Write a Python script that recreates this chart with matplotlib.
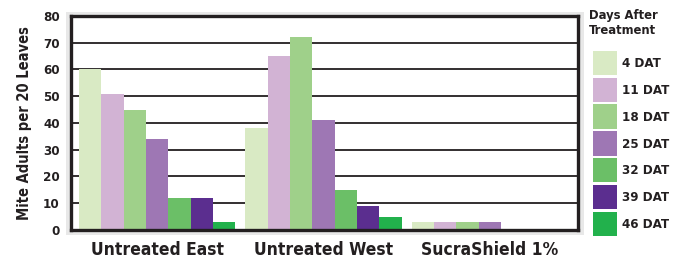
import matplotlib
matplotlib.use("Agg")
import matplotlib.pyplot as plt
from matplotlib.patches import Rectangle, Patch
import numpy as np

# mite counts
groups = ["Untreated East", "Untreated West", "SucraShield 1%"]
days = ["4 DAT", "11 DAT", "18 DAT", "25 DAT", "32 DAT", "39 DAT", "46 DAT"]
untreated_east = [60, 51, 45, 34, 12, 12, 3]
untreated_west = [38, 65, 72, 41, 15, 9, 5]
sucrashield = [3, 3, 3, 3, 0, 0, 0]
colors = ["#d9eac4", "#d2b3d4", "#9fd08a", "#9e77b4", "#6bbf67", "#5b2e8f", "#22b14c"]

ink = "#231f20"
font = ["DejaVu Sans"]
plt.rcParams["font.family"] = font
plt.rcParams["font.weight"] = "bold"
plt.rcParams["font.stretch"] = "condensed"

fig = plt.figure(figsize=(6.75, 2.6), dpi=100)
# light gray backdrop around the plot frame
fig.patches.append(Rectangle((0.0978, 0.096), 0.767, 0.858, transform=fig.transFigure,
                             facecolor="#e8e8e8", edgecolor="none", zorder=0))
ax = fig.add_axes([0.1052, 0.1154, 0.7511, 0.8231])
ax.set_zorder(2)
ax.set_facecolor("white")

data = np.array([untreated_east, untreated_west, sucrashield])
x = np.arange(len(groups))
w = 0.134
for i, d in enumerate(days):
    ax.bar(x + (i - 3) * w, data[:, i], width=w, color=colors[i], label=d, zorder=2)

ax.set_xlim(-0.517, 2.529)
ax.set_ylim(0, 80)
ax.set_yticks(range(0, 90, 10))
ax.yaxis.grid(True, color=ink, linewidth=1.3)
ax.set_axisbelow(True)
ax.set_xticks(x)
ax.set_xticklabels(groups, fontsize=12.5, fontweight="bold", color=ink)
ax.tick_params(axis="x", length=0, pad=8)
ax.tick_params(axis="y", length=0, pad=8, labelsize=9.5, labelcolor=ink)
for s in ax.spines.values():
    s.set_linewidth(2.4)
    s.set_color(ink)
ax.set_ylabel("Mite Adults per 20 Leaves", fontsize=10.5, fontweight="bold", color=ink, labelpad=8)

fig.text(0.873, 0.965, "Days After\nTreatment", fontsize=9.3, fontweight="bold", color=ink,
         va="top", ha="left", linespacing=1.15)
handles = [Patch(facecolor=c, edgecolor="none") for c in colors]
leg = fig.legend(handles, days, loc="upper left", bbox_to_anchor=(0.878, 0.805),
                 frameon=False, borderpad=0, borderaxespad=0,
                 handlelength=1.85, handleheight=2.45, labelspacing=0.2, handletextpad=0.35,
                 prop={"family": font, "weight": "bold", "size": 9.5, "stretch": "condensed"})
for t in leg.get_texts():
    t.set_color(ink)

fig.savefig("out.png", dpi=100)
